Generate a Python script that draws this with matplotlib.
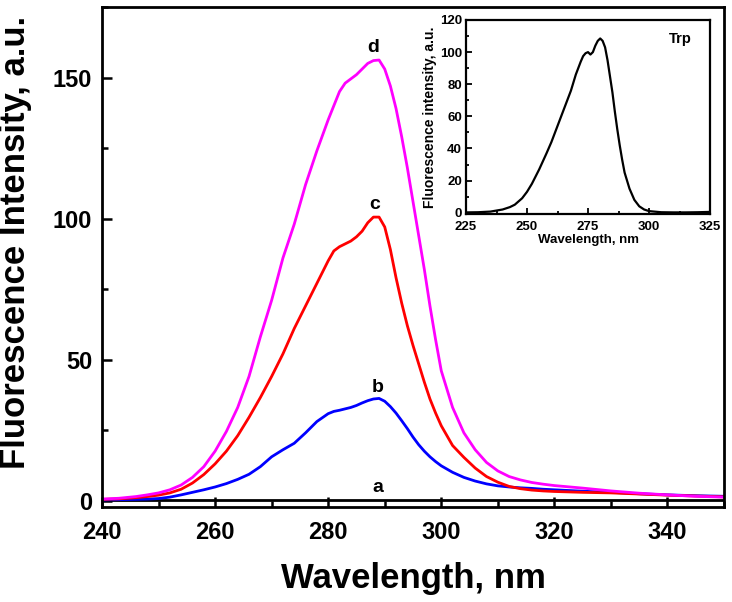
import matplotlib
matplotlib.use("Agg")
import matplotlib.pyplot as plt
from matplotlib.ticker import MultipleLocator

plt.rcParams['font.family'] = ['Liberation Sans', 'DejaVu Sans']
plt.rcParams['font.weight'] = 'bold'

# ---- main spectra data ----
wavelength = [240, 243, 246, 248, 250, 252, 254, 256, 258, 260, 262, 264, 266, 268,
              270, 272, 274, 276, 278, 280, 281, 282, 283, 284, 285, 286, 287, 288,
              289, 290, 291, 292, 293, 294, 295, 296, 297, 298, 299, 300, 302, 304,
              306, 308, 310, 312, 314, 316, 318, 320, 325, 330, 335, 340, 345, 350]

curve_a = [0.3] * len(wavelength)

curve_b = [0.2, 0.3, 0.4, 0.5, 0.7, 1.2, 2.0, 2.9, 3.8, 4.8, 6.0, 7.5, 9.3, 12.0,
           15.5, 18.0, 20.3, 24.0, 28.0, 30.8, 31.6, 32.0, 32.5, 33.0, 33.7, 34.6, 35.4, 36.0,
           36.2, 35.2, 33.3, 31.0, 28.3, 25.5, 22.5, 19.8, 17.5, 15.5, 13.8, 12.3, 10.0, 8.2,
           6.9, 5.9, 5.2, 4.8, 4.5, 4.3, 4.0, 3.8, 3.3, 2.9, 2.4, 2.0, 1.7, 1.5]

curve_c = [0.4, 0.6, 1.0, 1.4, 1.9, 2.7, 4.0, 6.2, 9.2, 13.0, 17.5, 23.0, 29.5, 36.5,
           44.0, 52.0, 61.0, 69.0, 77.0, 85.0, 88.5, 90.0, 91.0, 92.0, 93.5, 95.5, 98.5, 100.5,
           100.5, 97.0, 89.0, 79.0, 70.0, 62.0, 55.0, 48.5, 42.0, 36.0, 31.0, 26.5, 19.5, 15.3,
           11.5, 8.5, 6.5, 5.0, 4.2, 3.7, 3.4, 3.2, 2.9, 2.7, 2.3, 1.9, 1.6, 1.3]

curve_d = [0.5, 0.8, 1.4, 2.0, 2.7, 3.8, 5.5, 8.2, 12.0, 17.5, 24.5, 33.0, 44.0, 58.0,
           71.0, 86.0, 98.0, 112.0, 124.0, 135.0, 140.0, 145.0, 148.0, 149.5, 151.0, 153.0, 155.0, 156.0,
           156.2, 153.0, 147.0, 139.0, 129.0, 118.0, 106.0, 94.0, 82.0, 69.0, 57.0, 46.0, 33.0, 24.0,
           18.0, 13.5, 10.5, 8.5, 7.3, 6.4, 5.8, 5.3, 4.4, 3.4, 2.6, 2.0, 1.5, 1.2]

curve_labels = ['a', 'b', 'c', 'd']
label_x = [288.8, 288.8, 288.2, 288.0]
label_y = [3.0, 38.5, 103.5, 159.0]
curve_colors = ['black', '#0000FF', '#FF0000', '#FF00FF']

# ---- inset (Trp) data ----
trp_wavelength = [225, 230, 235, 240, 243, 245, 248, 250, 252, 255, 258, 260, 263, 265,
                  268, 270, 272, 273, 274, 275, 276, 277, 278, 279, 280, 281, 282, 283,
                  284, 285, 286, 287, 288, 289, 290, 292, 294, 296, 298, 300, 305, 310,
                  315, 320, 325]
trp_intensity = [0.2, 0.3, 0.7, 2.0, 3.5, 5.0, 9.0, 13.0, 18.0, 27.0, 37.0, 44.0, 56.0, 64.0,
                 76.0, 86.0, 94.0, 97.5, 99.3, 100.0, 98.5, 100.0, 104.0, 107.0, 108.5, 107.0, 103.0, 95.0,
                 85.0, 75.0, 63.0, 52.0, 42.0, 33.0, 25.0, 15.0, 8.0, 4.0, 2.0, 1.0, 0.3, 0.2,
                 0.2, 0.3, 0.5]

fig = plt.figure(figsize=(7.32, 6.02), dpi=100)
ax = fig.add_axes([102 / 732, (602 - 507) / 602, 622 / 732, 500 / 602])

series = [curve_a, curve_b, curve_c, curve_d]
for vals, col in zip(series, curve_colors):
    ax.plot(wavelength, vals, color=col, lw=2.0)

for lab, lx, ly in zip(curve_labels, label_x, label_y):
    ax.text(lx, ly, lab, fontsize=14, fontweight='bold', ha='center', va='baseline')

ax.set_xlim(240, 350)
ax.set_ylim(-2.3, 175)
ax.xaxis.set_major_locator(MultipleLocator(20))
ax.xaxis.set_minor_locator(MultipleLocator(10))
ax.yaxis.set_major_locator(MultipleLocator(50))
ax.yaxis.set_minor_locator(MultipleLocator(25))
ax.tick_params(which='both', direction='in', width=1.8, labelsize=17)
ax.tick_params(which='major', length=7)
ax.tick_params(which='minor', length=4.5)
ax.tick_params(axis='x', pad=10)
ax.tick_params(axis='y', pad=7)
for lab in ax.get_xticklabels() + ax.get_yticklabels():
    lab.set_fontweight('bold')
for sp in ax.spines.values():
    sp.set_linewidth(2.0)

ax.set_xlabel('Wavelength, nm', fontsize=25, fontweight='bold')
ax.set_ylabel('Fluorescence Intensity, a.u.', fontsize=25, fontweight='bold')
ax.xaxis.set_label_coords(0.5008, -0.110)
ax.yaxis.set_label_coords(-0.113, 0.53)

# ---- inset ----
axi = fig.add_axes([466 / 732, (602 - 214) / 602, 244 / 732, 194 / 602])
axi.plot(trp_wavelength, trp_intensity, color='black', lw=1.6)
axi.set_xlim(225, 325)
axi.set_ylim(-0.8, 120)
axi.xaxis.set_major_locator(MultipleLocator(25))
axi.xaxis.set_minor_locator(MultipleLocator(12.5))
axi.yaxis.set_major_locator(MultipleLocator(20))
axi.yaxis.set_minor_locator(MultipleLocator(10))
axi.tick_params(which='both', direction='in', width=1.3, labelsize=9.5)
axi.tick_params(which='major', length=4)
axi.tick_params(which='minor', length=2.5)
axi.tick_params(axis='x', pad=5)
axi.tick_params(axis='y', pad=3)
for lab in axi.get_xticklabels() + axi.get_yticklabels():
    lab.set_fontweight('bold')
for sp in axi.spines.values():
    sp.set_linewidth(1.6)
axi.set_xlabel('Wavelength, nm', fontsize=9.5, fontweight='bold', labelpad=1)
axi.set_ylabel('Fluorescence intensity, a.u.', fontsize=10, fontweight='bold', labelpad=2)
axi.text(0.88, 0.9, 'Trp', transform=axi.transAxes, fontsize=10.5, fontweight='bold',
         ha='center', va='center')

fig.savefig('out.png', dpi=100)
